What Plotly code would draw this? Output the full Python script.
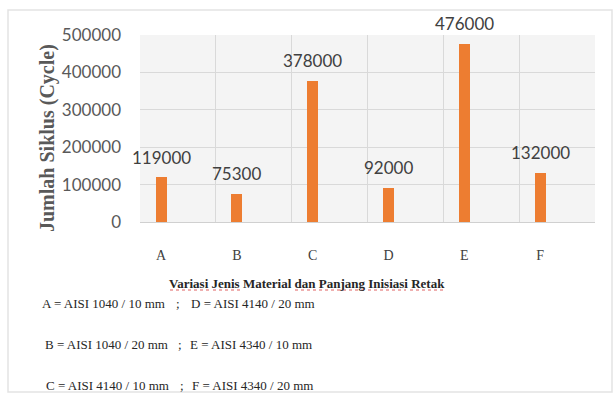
import plotly.graph_objects as go

# Data
categories = ["A", "B", "C", "D", "E", "F"]
cycles = [119000, 75300, 378000, 92000, 476000, 132000]
y_ticks = [0, 100000, 200000, 300000, 400000, 500000]
legend_left = ["A = AISI 1040 / 10 mm", "B = AISI 1040 / 20 mm", "C = AISI 4140 / 10 mm"]
legend_right = ["D = AISI 4140 / 20 mm", "E = AISI 4340 / 10 mm", "F = AISI 4340 / 20 mm"]
x_title = "Variasi Jenis Material dan Panjang Inisiasi Retak"
y_title = "Jumlah Siklus (Cycle)"

W, H = 613, 397
L, R, T, B = 140, 18, 35, 175
PW, PH = W - L - R, H - T - B

def px(x):
    return (x - L) / PW

def py(y):
    return (H - B - y) / PH

xpos = list(range(len(categories)))
ORANGE = "#ED7D31"

fig = go.Figure()
fig.add_trace(go.Bar(
    x=xpos, y=cycles, width=0.145,
    marker=dict(color=ORANGE, line=dict(width=0)),
    hoverinfo="skip",
))

annotations = []
# value labels above each bar
for xv, v in zip(xpos, cycles):
    annotations.append(dict(
        x=xv, y=v, xref="x", yref="y", text=str(v), showarrow=False,
        yshift=20, font=dict(family="Lato", size=17, color="#404040"),
    ))

# y-axis title
annotations.append(dict(
    x=px(47), y=py(138), xref="paper", yref="paper", text=y_title,
    textangle=-90, showarrow=False, xanchor="center", yanchor="middle",
    font=dict(family="Liberation Serif", size=20, color="#595959", weight="bold"),
))

# x-axis title
annotations.append(dict(
    x=px(307), y=py(283), xref="paper", yref="paper", text=x_title,
    showarrow=False, xanchor="center", yanchor="middle",
    font=dict(family="Liberation Serif", size=13, color="#262626", weight="bold"),
))

# material legend lines
rows = [(303, 40, 174, 189), (344, 43, 176, 188), (385, 44, 178, 190)]
for (yy, xl, xs, xr), lt, rt in zip(rows, legend_left, legend_right):
    for xx, txt in ((xl, lt), (xs, ";"), (xr, rt)):
        annotations.append(dict(
            x=px(xx), y=py(yy), xref="paper", yref="paper", text=txt,
            showarrow=False, xanchor="left", yanchor="middle",
            font=dict(family="Liberation Serif", size=13, color="#262626"),
        ))

shapes = []
# outer frame
shapes.append(dict(
    type="rect", xref="paper", yref="paper",
    x0=px(8), x1=px(612), y0=py(392), y1=py(10),
    line=dict(color="#e3e3e3", width=1.5), layer="below",
))
# spell-check underlines under the x-axis title
for x0, x1 in [(170, 209), (213, 240), (295, 316), (319, 364), (368, 406), (410, 443)]:
    shapes.append(dict(
        type="line", xref="paper", yref="paper",
        x0=px(x0), x1=px(x1), y0=py(290), y1=py(290),
        line=dict(color="#e06060", width=1, dash="dot"),
    ))

fig.update_layout(
    width=W, height=H,
    margin=dict(l=L, r=R, t=T, b=B, pad=0),
    paper_bgcolor="white", plot_bgcolor="#f4f4f4",
    showlegend=False, bargap=0,
    annotations=annotations, shapes=shapes,
    xaxis=dict(
        range=[-0.277, 5.723], tickmode="array", tickvals=xpos, ticktext=categories,
        showgrid=False, zeroline=False, showline=True, linecolor="#d0d0d0", linewidth=1,
        ticks="", ticklabelstandoff=20,
        tickfont=dict(family="Liberation Serif", size=14, color="#404040"),
        minor=dict(tick0=-0.277, dtick=1, showgrid=True, gridcolor="#d9d9d9", gridwidth=1, ticks=""),
        fixedrange=True,
    ),
    yaxis=dict(
        range=[0, 500000], tickmode="array", tickvals=y_ticks,
        ticktext=[str(t) for t in y_ticks],
        showgrid=True, gridcolor="#d9d9d9", gridwidth=1, zeroline=False,
        ticks="", ticklabelstandoff=18,
        tickfont=dict(family="Lato", size=17, color="#595959"),
        fixedrange=True,
    ),
)

fig.write_html("out.html")
